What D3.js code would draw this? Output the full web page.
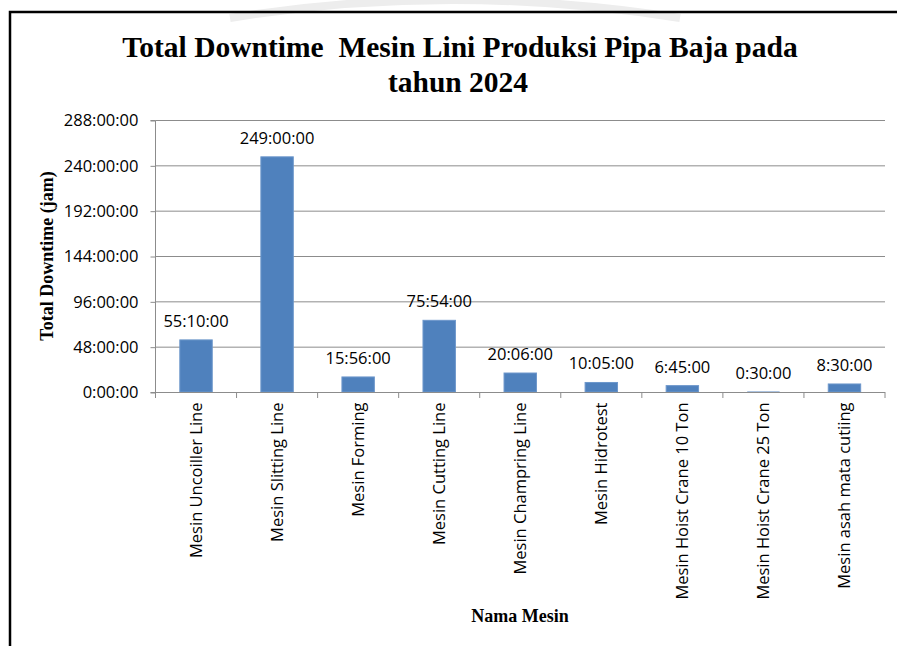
<!DOCTYPE html>
<html><head><meta charset="utf-8">
<script src="https://cdn.jsdelivr.net/npm/d3@7"></script>
<style>body{margin:0;background:#fff}</style>
</head><body>
<svg id="c" width="897" height="646"></svg>
<script>
const categories = ["Mesin Uncoiller Line","Mesin Slitting Line","Mesin Forming","Mesin Cutting Line","Mesin Champring Line","Mesin Hidrotest","Mesin Hoist Crane 10 Ton","Mesin Hoist Crane 25 Ton","Mesin asah mata cutiing"];
const durations = ["55:10:00","249:00:00","15:56:00","75:54:00","20:06:00","10:05:00","6:45:00","0:30:00","8:30:00"];
const yTickValues = [0,48,96,144,192,240,288];
const yTickLabels = ["0:00:00","48:00:00","96:00:00","144:00:00","192:00:00","240:00:00","288:00:00"];

const toHours = s => { const p = s.split(":").map(Number); return p[0] + p[1]/60 + p[2]/3600; };
const data = categories.map((c,i)=>({c, label:durations[i], v:toHours(durations[i])}));

const svg = d3.select("#c");
const L = 155.5, R = 885, T = 120, B = 392;
const FS = 16.5;

// faint watermark arc
svg.append("path").attr("d","M230,18 Q450,-18 680,18").attr("fill","none").attr("stroke","#ededed").attr("stroke-width",8);

// frame
svg.append("path").attr("d","M10,646 L10,12 L897,12").attr("fill","none").attr("stroke","#000").attr("stroke-width",2.5);

const x = d3.scaleBand().domain(categories).range([L,R]).paddingInner(0).paddingOuter(0);
const y = d3.scaleLinear().domain([0,288]).range([B,T]);

// gridlines
svg.append("g").selectAll("line").data(yTickValues.slice(1)).join("line")
  .attr("x1",L).attr("x2",R).attr("y1",d=>y(d)+0.5).attr("y2",d=>y(d)+0.5)
  .attr("stroke","#8c8c8c").attr("stroke-width",1);

// y axis
const yAxis = d3.axisLeft(y).tickValues(yTickValues).tickFormat((d,i)=>yTickLabels[i]).tickSize(5).tickPadding(12);
const gy = svg.append("g").attr("transform",`translate(${L},0.5)`).call(yAxis);
gy.select(".domain").attr("stroke","#8c8c8c").attr("d",`M-5,${T}H0V${B}H-5`);
gy.selectAll(".tick line").attr("stroke","#8c8c8c");
gy.selectAll(".tick text").attr("font-family","Open Sans").attr("font-size",FS).attr("fill","#000");

// bars
const bw = x.bandwidth()*0.4;
svg.append("g").selectAll("rect").data(data).join("rect")
  .attr("x",d=>x(d.c)+x.bandwidth()/2-bw/2).attr("width",bw)
  .attr("y",d=>y(d.v)).attr("height",d=>B-y(d.v))
  .attr("fill","#4f81bd").attr("stroke",d=>(B-y(d.v))>2?"#6d97cb":"none").attr("stroke-width",1);

// x axis
const xAxis = d3.axisBottom(x).tickSize(0).tickFormat(d=>d);
const gx = svg.append("g").attr("transform",`translate(0,${B+0.5})`).call(xAxis);
gx.select(".domain").attr("stroke","#8c8c8c").attr("d",`M${L},0H${R}`);
gx.selectAll(".tick text").attr("font-family","Open Sans").attr("font-size",FS).attr("fill","#000")
  .attr("transform","rotate(-90)").attr("text-anchor","end").attr("x",-10).attr("y",0).attr("dy","0.35em");
// boundary ticks
svg.append("g").selectAll("line").data(d3.range(categories.length+1)).join("line")
  .attr("x1",i=>L+i*x.step()).attr("x2",i=>L+i*x.step()).attr("y1",B).attr("y2",B+6)
  .attr("stroke","#8c8c8c");

// data labels
svg.append("g").selectAll("text").data(data).join("text")
  .attr("x",d=>x(d.c)+x.bandwidth()/2).attr("y",d=>y(d.v)-13)
  .attr("text-anchor","middle").attr("font-family","Open Sans").attr("font-size",FS).attr("fill","#000")
  .text(d=>d.label);

// title
const title = svg.append("text").attr("text-anchor","middle").attr("font-family","Liberation Serif")
  .attr("font-weight","bold").attr("font-size",29.5).attr("fill","#000").style("white-space","pre");
title.append("tspan").attr("x",460).attr("y",57).text("Total Downtime  Mesin Lini Produksi Pipa Baja pada");
title.append("tspan").attr("x",458).attr("y",92).text("tahun 2024");

// axis titles
svg.append("text").attr("transform","translate(53,256) rotate(-90)").attr("text-anchor","middle")
  .attr("font-family","Liberation Serif").attr("font-weight","bold").attr("font-size",18).text("Total Downtime (jam)");
svg.append("text").attr("x",520).attr("y",622).attr("text-anchor","middle")
  .attr("font-family","Liberation Serif").attr("font-weight","bold").attr("font-size",18).text("Nama Mesin");
</script>
</body></html>
